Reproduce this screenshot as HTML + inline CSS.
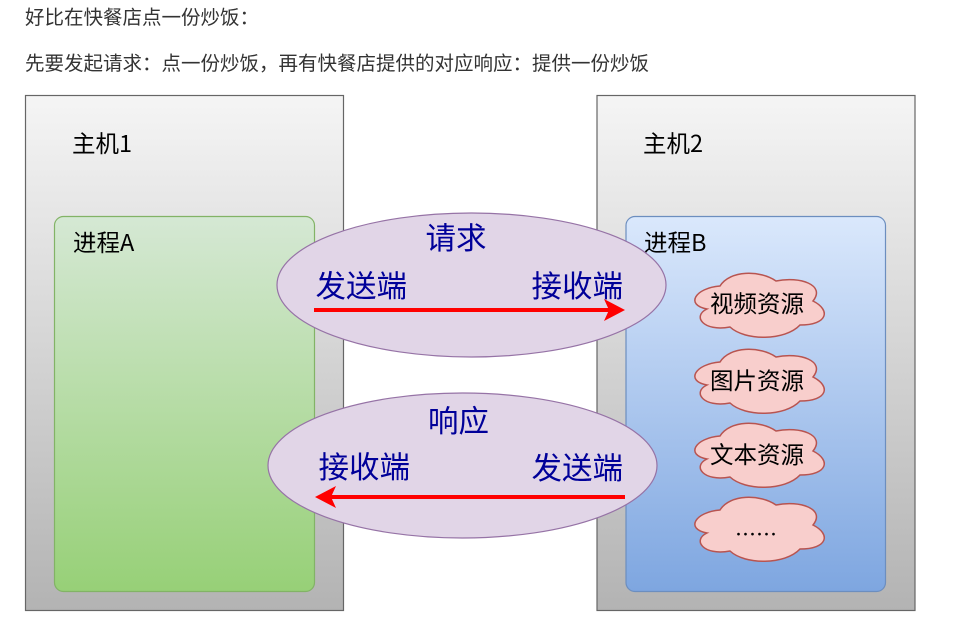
<!DOCTYPE html>
<html lang="zh">
<head>
<meta charset="utf-8">
<style>
html,body{margin:0;padding:0;background:#fff;width:973px;height:626px;overflow:hidden}
svg{display:block;font-family:"Noto Sans CJK SC","Liberation Sans",sans-serif}
.p{font-size:19.5px;fill:#333}
.h{font-size:23.5px;fill:#000}
.c{font-size:23.5px;fill:#000;text-anchor:middle}
.b{font-size:30.5px;fill:#000099}
</style>
</head>
<body>
<svg width="973" height="626" viewBox="0 0 973 626" xmlns="http://www.w3.org/2000/svg">
<defs>
<linearGradient id="g" x1="0" y1="0" x2="0" y2="1"><stop offset="0" stop-color="#f5f5f5"/><stop offset="1" stop-color="#b3b3b3"/></linearGradient>
<linearGradient id="gr" x1="0" y1="0" x2="0" y2="1"><stop offset="0" stop-color="#d5e8d4"/><stop offset="1" stop-color="#97d077"/></linearGradient>
<linearGradient id="bl" x1="0" y1="0" x2="0" y2="1"><stop offset="0" stop-color="#dae8fc"/><stop offset="1" stop-color="#7ea6e0"/></linearGradient>
</defs>

<text class="p" x="25" y="24">好比在快餐店点一份炒饭&#xFF1A;</text>
<text class="p" x="25" y="70">先要发起请求&#xFF1A;点一份炒饭&#xFF0C;再有快餐店提供的对应响应&#xFF1A;提供一份炒饭</text>

<rect x="25.5" y="95.5" width="318" height="515" fill="url(#g)" stroke="#666" stroke-width="1.2"/>
<rect x="597" y="95.5" width="318" height="515" fill="url(#g)" stroke="#666" stroke-width="1.2"/>
<rect x="54.5" y="216.5" width="260" height="375" rx="9" fill="url(#gr)" stroke="#82b366" stroke-width="1.2"/>
<rect x="626" y="216.5" width="259.5" height="375" rx="9" fill="url(#bl)" stroke="#6c8ebf" stroke-width="1.2"/>

<text class="h" x="72" y="152">主机1</text>
<text class="h" x="643" y="152">主机2</text>
<text class="h" x="73" y="251">进程A</text>
<text class="h" x="644" y="251">进程B</text>

<ellipse cx="471.5" cy="285" rx="194.5" ry="72" fill="#e1d5e7" stroke="#9673a6" stroke-width="1.2"/>
<ellipse cx="462.5" cy="465.5" rx="194.5" ry="72.5" fill="#e1d5e7" stroke="#9673a6" stroke-width="1.2"/>

<text class="b" x="425.5" y="249">请求</text>
<text class="b" x="315.5" y="297">发送端</text>
<text class="b" x="531.5" y="297">接收端</text>
<text class="b" x="428" y="432">响应</text>
<text class="b" x="318.5" y="478">接收端</text>
<text class="b" x="531.5" y="479">发送端</text>

<path d="M314 310H610" stroke="#f00" stroke-width="4" fill="none"/>
<path d="M625 310L604 321L609 310L604 299Z" fill="#f00"/>
<path d="M625 497H330" stroke="#f00" stroke-width="4" fill="none"/>
<path d="M315 497L336 486L331 497L336 508Z" fill="#f00"/>

<g fill="#f8cecc" stroke="#b85450" stroke-width="1.5">
<path d="M720 286C695 288 685 305 707 309C692 316 703 332 730 327C745 341 785 341 800 325C828 325 831 310 813 301C826 285 800 276 776 281C760 270 730 270 720 286Z"/>
<path d="M720 286C695 288 685 305 707 309C692 316 703 332 730 327C745 341 785 341 800 325C828 325 831 310 813 301C826 285 800 276 776 281C760 270 730 270 720 286Z" transform="translate(0,76)"/>
<path d="M720 286C695 288 685 305 707 309C692 316 703 332 730 327C745 341 785 341 800 325C828 325 831 310 813 301C826 285 800 276 776 281C760 270 730 270 720 286Z" transform="translate(0,150)"/>
<path d="M720 286C695 288 685 305 707 309C692 316 703 332 730 327C745 341 785 341 800 325C828 325 831 310 813 301C826 285 800 276 776 281C760 270 730 270 720 286Z" transform="translate(0,224)"/>
</g>

<text class="c" x="757" y="312">视频资源</text>
<text class="c" x="757" y="389">图片资源</text>
<text class="c" x="757" y="463">文本资源</text>
<text class="c" x="756" y="542" style="font-size:21px">&#x2026;&#x2026;</text>
</svg>
</body>
</html>
